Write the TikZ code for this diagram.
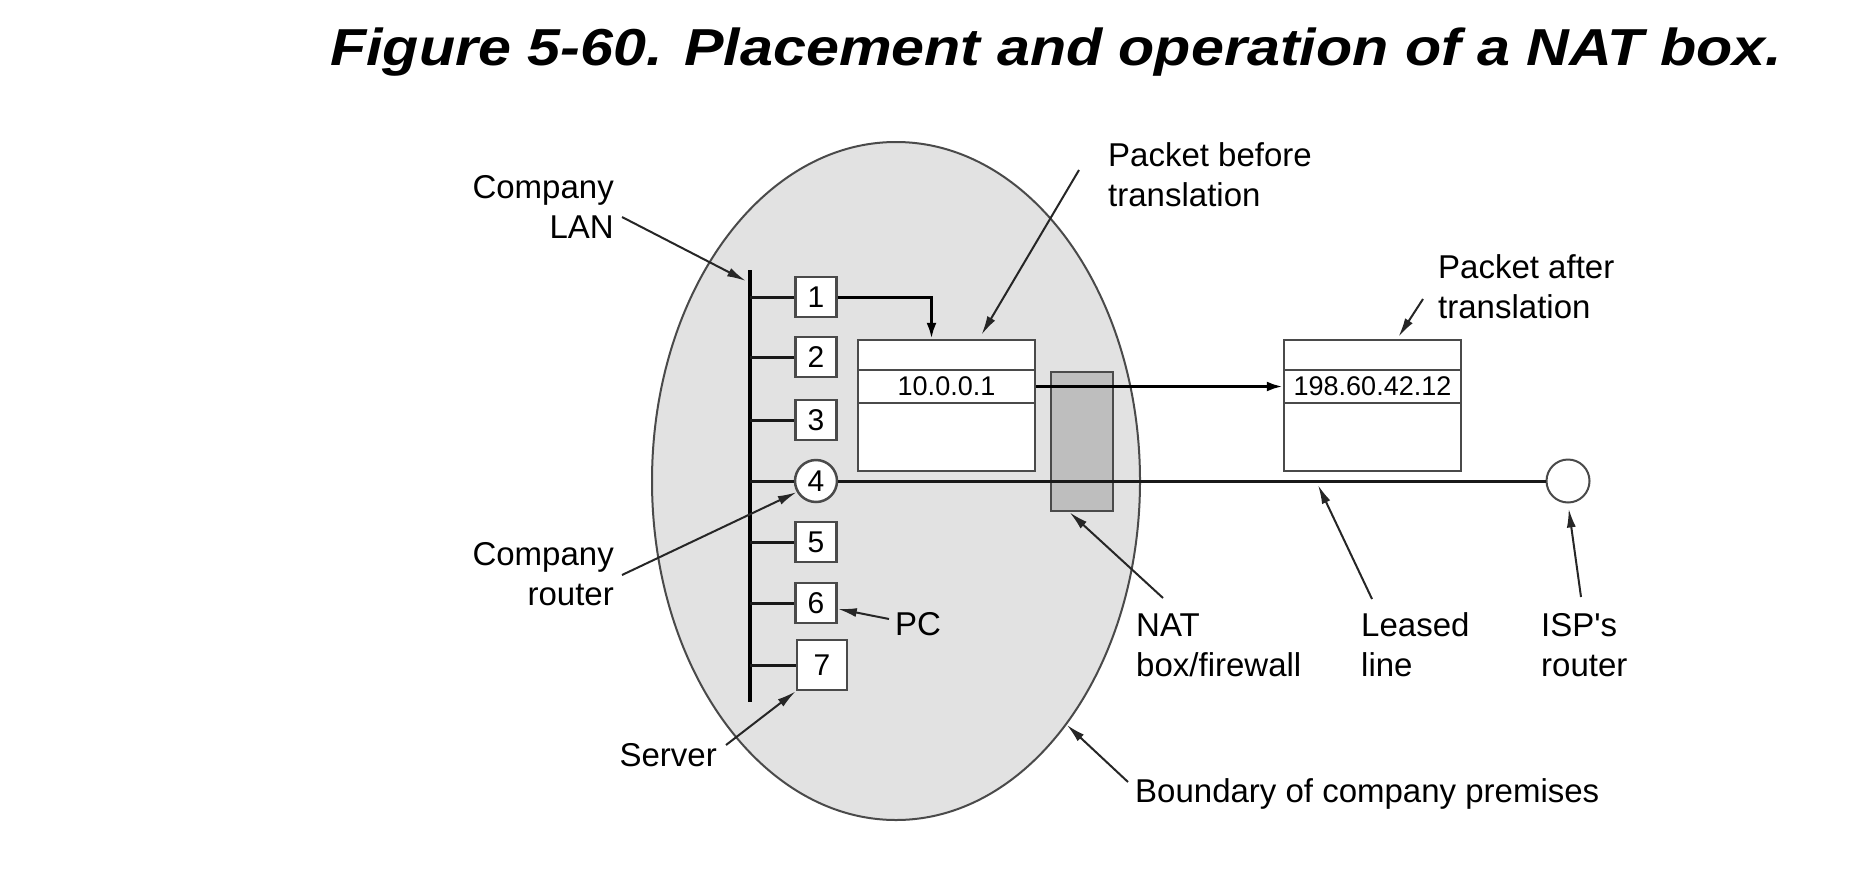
\documentclass[tikz,border=0pt]{standalone}
\usepackage{graphicx}
\usepackage{fontspec}
\setmainfont{Liberation Sans}
\usetikzlibrary{arrows.meta,shapes.geometric}
\definecolor{premfill}{HTML}{E2E2E2}
\definecolor{natfill}{HTML}{BEBEBE}
\definecolor{edge}{HTML}{4A4A4A}
\tikzset{
  host/.style={draw=edge,line width=2.5pt,fill=white,minimum width=41pt,minimum height=40pt,inner sep=0pt,font=\fontsize{30}{30}\selectfont},
  pkt/.style={draw=edge,line width=2.5pt,fill=white,minimum width=177pt,minimum height=131pt,inner sep=0pt},
  addr/.style={draw=edge,line width=2.5pt,minimum width=177pt,minimum height=33pt,inner sep=0pt,font=\fontsize{27}{27}\selectfont},
  lbl/.style={font=\fontsize{33}{40}\selectfont,inner sep=0pt},
  wire/.style={line width=3pt,draw=black!90},
  flow/.style={line width=3pt,-{Latex[length=16pt,width=10pt]}},
  ptr/.style={line width=2pt,draw=black!85,-{Latex[length=19pt,width=9pt]}}
}
\begin{document}
\begin{tikzpicture}[x=1pt,y=-1pt]
  \useasboundingbox (0,0) rectangle (1859,870);
  \node[anchor=base west,inner sep=0pt] (title) at (330,65)
    {\resizebox{1452pt}{\height}{\fontsize{52}{52}\selectfont\bfseries\itshape Figure 5-60. Placement and operation of a NAT box.}};
  \node[ellipse,draw=edge,fill=premfill,line width=2pt,minimum width=488pt,minimum height=678pt,inner sep=0pt] (premises) at (896,481) {};
  \coordinate (bustop) at (750,270);
  \coordinate (busbot) at (750,702);
  \draw[line width=4pt] (bustop) -- (busbot);
  \foreach \n/\y in {1/297,2/357,3/420,5/542,6/603} {
    \node[host] (h\n) at (816,\y) {\n};
    \draw[wire] (h\n.west -| bustop) -- (h\n.west);
  }
  \node[host,circle,minimum size=42pt] (h4) at (816,481) {4};
  \draw[wire] (h4.west -| bustop) -- (h4.west);
  \node[host,minimum width=50pt,minimum height=50pt] (h7) at (822,665) {7};
  \draw[wire] (h7.west -| bustop) -- (h7.west);
  \node[pkt] (pktin) at (946.5,405.5) {};
  \node[addr] (addrin) at (946.5,386.5) {10.0.0.1};
  \node[pkt] (pktout) at (1372.5,405.5) {};
  \node[addr] (addrout) at (1372.5,386.5) {198.60.42.12};
  \node[draw=edge,fill=natfill,line width=2.5pt,minimum width=62pt,minimum height=139pt,inner sep=0pt] (nat) at (1082,441.5) {};
  \node[circle,draw=edge,fill=white,line width=2pt,minimum size=43pt,inner sep=0pt] (isp) at (1568,481) {};
  \draw[wire] (h4.east) -- (isp.west);
  \coordinate (leasedpt) at (1318,485);
  \draw[flow] (h1.east) -| ([xshift=-15pt]pktin.north);
  \draw[flow] (addrin.east) -- (addrout.west);
  \node[lbl,align=right,anchor=east] (lanlbl) at (614,207) {Company\\LAN};
  \node[lbl,align=left,anchor=west] (beforelbl) at (1108,175) {Packet before\\translation};
  \node[lbl,align=left,anchor=west] (afterlbl) at (1438,287) {Packet after\\translation};
  \node[lbl,align=right,anchor=east] (routerlbl) at (614,574) {Company\\router};
  \node[lbl,anchor=west] (pclbl) at (895,624) {PC};
  \node[lbl,anchor=east] (serverlbl) at (717,755) {Server};
  \node[lbl,align=left,anchor=west] (natlbl) at (1136,645) {NAT\\box/firewall};
  \node[lbl,align=left,anchor=west] (leasedlbl) at (1361,645) {Leased\\line};
  \node[lbl,align=left,anchor=west] (isplbl) at (1541,645) {ISP\textquotesingle s\\router};
  \node[lbl,anchor=west] (boundlbl) at (1135,794) {Boundary of company premises};
  \draw[ptr] ([shift={(8,10)}]lanlbl.east) -- ([shift={(-4,11)}]bustop);
  \draw[ptr] ([shift={(-29,-5)}]beforelbl.west) -- ([shift={(35,-4)}]pktin.north);
  \draw[ptr] ([shift={(-15,12)}]afterlbl.west) -- ([shift={(26,-2)}]pktout.north);
  \draw[ptr] ([shift={(8,1)}]routerlbl.east) -- (h4.210);
  \draw[ptr] ([shift={(-6,-5)}]pclbl.west) -- (h6.-15);
  \draw[ptr] ([shift={(9,-10)}]serverlbl.east) -- (h7.south west);
  \draw[ptr] ([shift={(27,-47)}]natlbl.west) -- (nat.-100);
  \draw[ptr] ([shift={(11,-46)}]leasedlbl.west) -- (leasedpt);
  \draw[ptr,shorten >=5pt] ([shift={(40,-48)}]isplbl.west) -- (isp.south);
  \draw[ptr] ([shift={(-7,-12)}]boundlbl.west) -- (premises.-55);
\end{tikzpicture}
\end{document}
